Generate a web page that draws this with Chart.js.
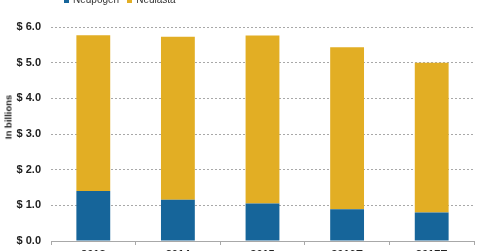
<!DOCTYPE html>
<html>
<head>
<meta charset="utf-8">
<script src="https://cdn.jsdelivr.net/npm/chart.js@4/dist/chart.umd.min.js"></script>
<style>
  html, body { margin:0; padding:0; background:#fff; overflow:hidden; }
  body { width:480px; height:251px; position:relative; font-family:"Liberation Sans", Arial, sans-serif; }
  #wrap { position:absolute; left:0; top:0; width:480px; height:263px; }
  #legend { position:absolute; top:-6px; left:64px; font-size:10px; color:#333; white-space:nowrap; line-height:12px; }
  #legend span.box { display:inline-block; width:5px; height:5px; margin-right:4px; vertical-align:0px; }
  #legend span.item { margin-right:8px; }
  #ytitle { position:absolute; left:7.5px; top:117px; transform:translate(-50%,-50%) rotate(-90deg); font-size:9.5px; font-weight:bold; color:#222; white-space:nowrap; }
</style>
</head>
<body>
<div id="wrap"><canvas id="c"></canvas></div>
<div id="legend"></div>
<div id="ytitle">In billions</div>
<script>
const categories = ["2013", "2014", "2015", "2016E", "2017E"];
const neupogen = [1.40, 1.16, 1.05, 0.89, 0.80];
const neulasta = [4.37, 4.57, 4.71, 4.54, 4.20];
const seriesNames = ["Neupogen", "Neulasta"];
const seriesColors = ["#16659a", "#e2ae24"];
const yTicks = [0, 1, 2, 3, 4, 5, 6];

const legend = document.getElementById('legend');
seriesNames.forEach((n, i) => {
  const it = document.createElement('span');
  it.className = 'item';
  const b = document.createElement('span');
  b.className = 'box';
  b.style.background = seriesColors[i];
  it.appendChild(b);
  it.appendChild(document.createTextNode(n));
  legend.appendChild(it);
});

new Chart(document.getElementById('c'), {
  type: 'bar',
  data: {
    labels: categories,
    datasets: [
      { label: seriesNames[0], data: neupogen, backgroundColor: seriesColors[0], barPercentage: 0.4, categoryPercentage: 1.0 },
      { label: seriesNames[1], data: neulasta, backgroundColor: seriesColors[1], barPercentage: 0.4, categoryPercentage: 1.0 }
    ]
  },
  options: {
    responsive: true,
    maintainAspectRatio: false,
    animation: false,
    layout: { padding: { top: 27, right: 6, left: 0, bottom: 0 } },
    plugins: { legend: { display: false }, tooltip: { enabled: false } },
    scales: {
      x: {
        stacked: true,
        grid: { display: true, drawOnChartArea: false, drawTicks: true, tickLength: 4, color: '#a8a8a8', offset: true },
        border: { display: true, color: '#a8a8a8', width: 1 },
        ticks: { padding: 3, color: '#222', font: { family: 'Liberation Sans', size: 11, weight: 'bold' } },
        afterFit: (s) => { s.height = 22; }
      },
      y: {
        stacked: true,
        min: 0, max: 6,
        afterBuildTicks: (s) => { s.ticks = yTicks.map(v => ({ value: v })); },
        grid: { color: '#a8a8a8', drawTicks: false, lineWidth: 1 },
        border: { display: false, dash: [2, 2] },
        ticks: { padding: 10, color: '#222', font: { family: 'Liberation Sans', size: 11, weight: 'bold' },
                 callback: (v) => '$ ' + Number(v).toFixed(1) },
        afterFit: (s) => { s.width = 51; }
      }
    }
  }
});
</script>
</body>
</html>
